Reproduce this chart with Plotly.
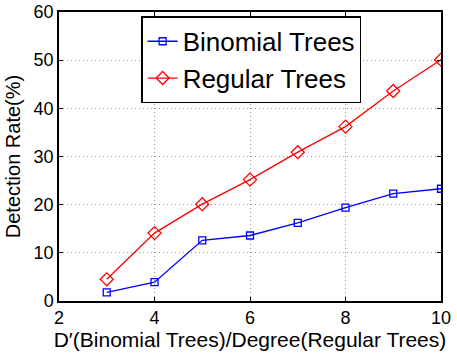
import plotly.graph_objects as go

# Detection rate vs. tree parameter
x_vals = [3, 4, 5, 6, 7, 8, 9, 10]
binomial_rate = [1.8, 3.9, 12.6, 13.6, 16.2, 19.4, 22.3, 23.3]
regular_rate = [4.5, 14.1, 20.1, 25.2, 30.9, 36.2, 43.6, 50.1]

x_ticks = [2, 4, 6, 8, 10]
y_ticks = [0, 10, 20, 30, 40, 50, 60]

font_family = "Liberation Sans, Arial, sans-serif"

fig = go.Figure()
fig.add_trace(go.Scatter(
    x=x_vals, y=binomial_rate, name="Binomial Trees",
    mode="lines+markers",
    line=dict(color="#0000ff", width=1.3),
    marker=dict(symbol="square-open", size=7, color="#0000ff", line=dict(width=1.3)),
))
fig.add_trace(go.Scatter(
    x=x_vals, y=regular_rate, name="Regular Trees",
    mode="lines+markers",
    line=dict(color="#ff0000", width=1.3),
    marker=dict(symbol="diamond-open", size=10, color="#ff0000", line=dict(width=1.3)),
))

axis_common = dict(
    showline=True, linecolor="black", linewidth=1.5, mirror="ticks",
    ticks="inside", ticklen=4, tickcolor="black",
    showgrid=True, gridcolor="#999999", griddash="1px,3px", gridwidth=1,
    zeroline=False, automargin=False,
    tickfont=dict(family=font_family, size=18, color="black"),
)

fig.update_xaxes(
    range=[2, 10], tickvals=x_ticks,
    title=dict(text="D′(Binomial Trees)/Degree(Regular Trees)",
               font=dict(family=font_family, size=21, color="black"), standoff=5),
    **axis_common,
)
fig.update_yaxes(
    range=[0, 60], tickvals=y_ticks,
    title=dict(text="Detection Rate(%)",
               font=dict(family=font_family, size=20, color="black"), standoff=8),
    **axis_common,
)

fig.update_layout(
    width=457, height=356,
    margin=dict(l=59, r=16, t=12, b=55),
    paper_bgcolor="white", plot_bgcolor="white",
    showlegend=True,
    legend=dict(
        x=0.215, y=0.985, xanchor="left", yanchor="top",
        bgcolor="white", bordercolor="black", borderwidth=1.5,
        font=dict(family=font_family, size=26, color="black"),
        itemwidth=30, tracegroupgap=0,
    ),
)

fig.write_html("out.html")
